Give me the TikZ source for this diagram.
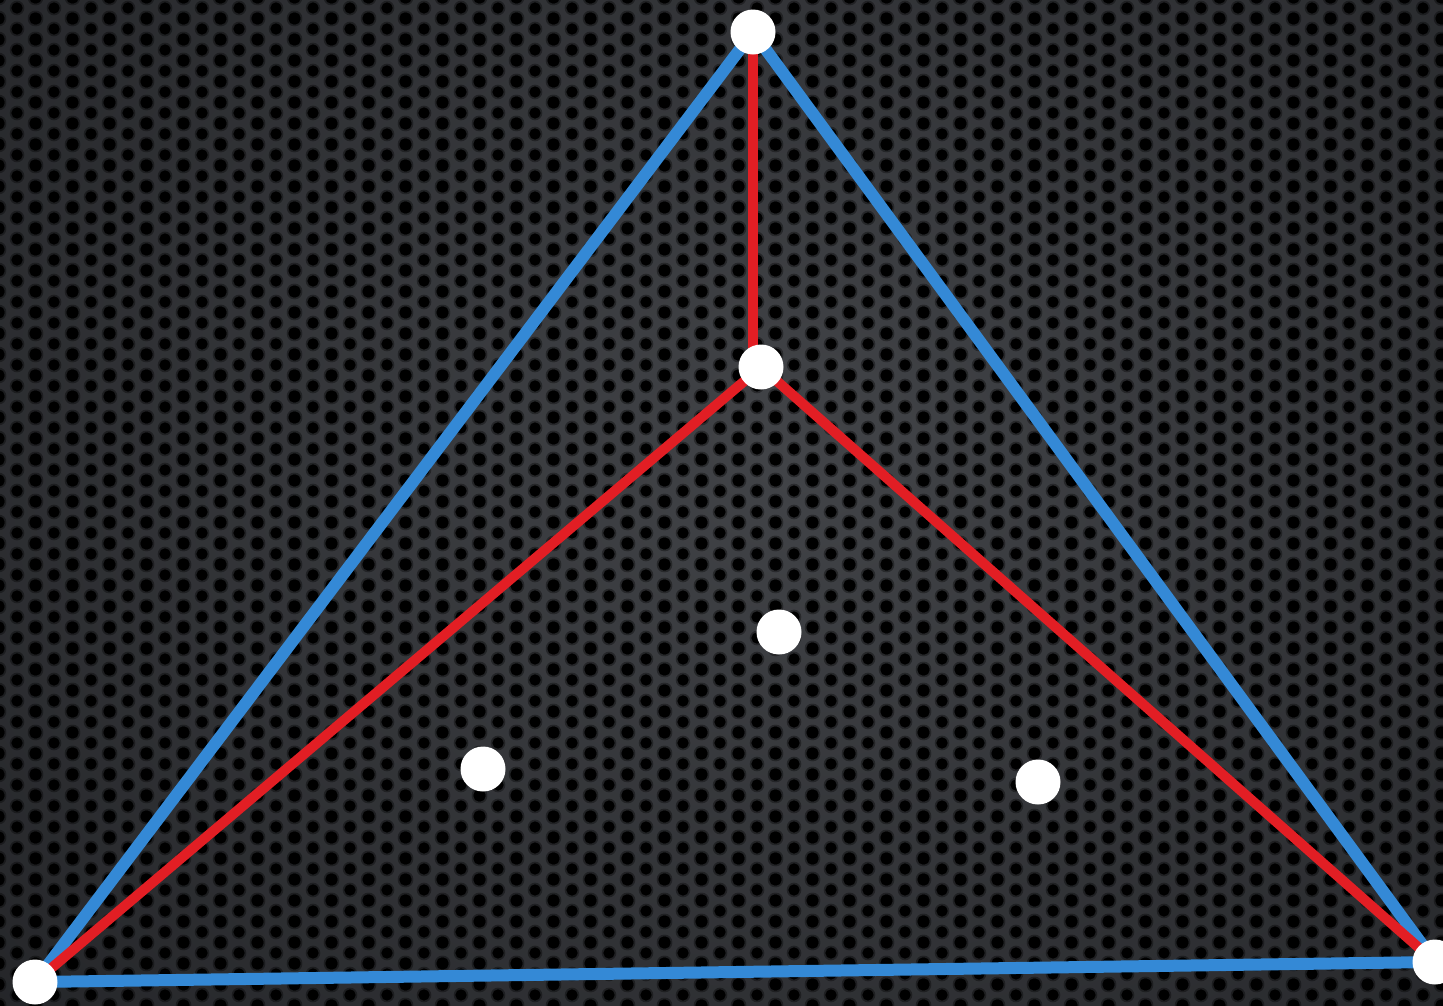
\documentclass[tikz,border=0pt]{standalone}
\usetikzlibrary{shadings,patterns}
\definecolor{bgin}{RGB}{66,68,72}
\definecolor{bgout}{RGB}{30,31,34}
\definecolor{edgeblue}{RGB}{52,137,214}
\definecolor{edgered}{RGB}{226,30,36}
\pgfdeclarepatternformonly{holesA}{\pgfpointorigin}{\pgfqpoint{37pt}{20.5pt}}{\pgfqpoint{37pt}{20.5pt}}{%
  \pgfpathcircle{\pgfqpoint{0pt}{0pt}}{5.8pt}%
  \pgfpathcircle{\pgfqpoint{37pt}{0pt}}{5.8pt}%
  \pgfpathcircle{\pgfqpoint{0pt}{20.5pt}}{5.8pt}%
  \pgfpathcircle{\pgfqpoint{37pt}{20.5pt}}{5.8pt}%
  \pgfpathcircle{\pgfqpoint{18.5pt}{10.25pt}}{5.8pt}%
  \pgfusepath{fill}}
\pgfdeclarepatternformonly{holesB}{\pgfpointorigin}{\pgfqpoint{37pt}{20.5pt}}{\pgfqpoint{37pt}{20.5pt}}{%
  \pgfpathcircle{\pgfqpoint{0pt}{0pt}}{7.5pt}%
  \pgfpathcircle{\pgfqpoint{37pt}{0pt}}{7.5pt}%
  \pgfpathcircle{\pgfqpoint{0pt}{20.5pt}}{7.5pt}%
  \pgfpathcircle{\pgfqpoint{37pt}{20.5pt}}{7.5pt}%
  \pgfpathcircle{\pgfqpoint{18.5pt}{10.25pt}}{7.5pt}%
  \pgfusepath{fill}}
\tikzset{
  blueline/.style={draw=edgeblue,line width=12pt,line cap=round},
  redline/.style={draw=edgered,line width=10pt,line cap=round},
  dot/.style={circle,fill=white,minimum size=45pt,inner sep=0pt},
}
\begin{document}
\begin{tikzpicture}[x=1pt,y=-1pt]
\useasboundingbox (0,0) rectangle (1443,1005);
\begin{scope}
\clip (0,0) rectangle (1443,1005);
\shade[inner color=bgin,outer color=bgout] (-500,-600) rectangle (2100,1500);
\fill[pattern=holesB,pattern color=black,fill opacity=0.35] (0,0) rectangle (1443,1005);
\fill[pattern=holesA,pattern color=black] (0,0) rectangle (1443,1005);
\coordinate (T) at (753,32);
\coordinate (I) at (761,367);
\coordinate (L) at (35,982);
\coordinate (R) at (1435,962);
\coordinate (Iv) at (T |- I);
\draw[blueline] (T) -- (L);
\draw[blueline] (T) -- (R);
\draw[blueline] (L) -- (R);
\draw[redline] (T) -- (Iv);
\draw[redline] (I) -- (L);
\draw[redline] (I) -- (R);
\node[dot] (nT) at (T) {};
\node[dot] (nI) at (I) {};
\node[dot] (nL) at (L) {};
\node[dot] (nR) at (R) {};
\node[dot] (p1) at (779,632) {};
\node[dot] (p2) at (483,769) {};
\node[dot] (p3) at (1038,782) {};
\end{scope}
\end{tikzpicture}
\end{document}
